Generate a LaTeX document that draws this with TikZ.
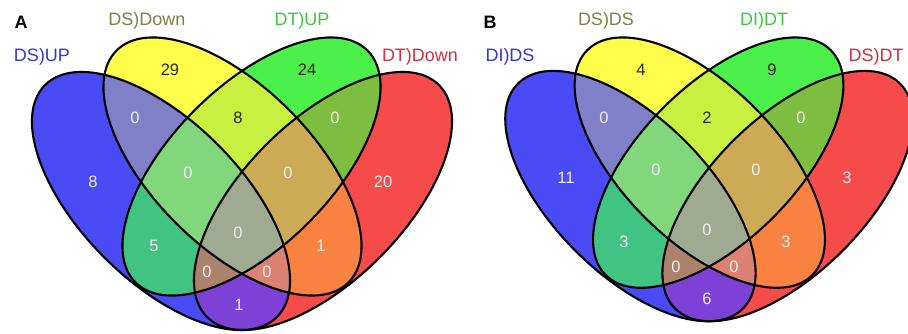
\documentclass[tikz,border=0pt]{standalone}
\usepackage{fontspec}
\setmainfont{Liberation Sans}

% region colours of the four-set diagram
\definecolor{cB}{RGB}{75,75,245}
\definecolor{cY}{RGB}{255,255,75}
\definecolor{cG}{RGB}{75,240,75}
\definecolor{cR}{RGB}{245,75,75}
\definecolor{cBY}{RGB}{128,128,200}
\definecolor{cBG}{RGB}{65,195,130}
\definecolor{cBR}{RGB}{125,65,215}
\definecolor{cYG}{RGB}{200,240,65}
\definecolor{cYR}{RGB}{250,130,65}
\definecolor{cGR}{RGB}{125,190,65}
\definecolor{cBYG}{RGB}{130,215,125}
\definecolor{cBYR}{RGB}{220,130,115}
\definecolor{cBGR}{RGB}{170,130,110}
\definecolor{cYGR}{RGB}{205,170,85}
\definecolor{cBYGR}{RGB}{160,170,145}
% label colours
\definecolor{numlight}{RGB}{238,238,238}
\definecolor{numdark}{RGB}{40,40,20}
\definecolor{tBlue}{RGB}{55,55,200}
\definecolor{tOlive}{RGB}{128,128,70}
\definecolor{tGreen}{RGB}{60,200,60}
\definecolor{tRed}{RGB}{205,50,60}

\tikzset{
  outline/.style={draw=black, line width=2.1pt},
  num/.style={font=\fontsize{16.5}{18}\selectfont, text=numlight, inner sep=0pt},
  numdk/.style={num, text=numdark},
  catlabel/.style={font=\fontsize{18}{20}\selectfont, inner sep=0pt},
  panellabel/.style={font=\bfseries\fontsize{18}{20}\selectfont, inner sep=0pt},
}

% the four ellipses, in panel coordinates (origin on the symmetry axis)
\newcommand{\ellB}[1]{\path[#1,rotate around={135:(-81,-34)}] (-81,-34) ellipse [x radius=164, y radius=80];}
\newcommand{\ellY}[1]{\path[#1,rotate around={135:(-9.5,0.5)}] (-9.5,0.5) ellipse [x radius=164, y radius=80];}
\newcommand{\ellG}[1]{\path[#1,rotate around={45:(9.5,0.5)}] (9.5,0.5) ellipse [x radius=164, y radius=80];}
\newcommand{\ellR}[1]{\path[#1,rotate around={45:(81,-34)}] (81,-34) ellipse [x radius=164, y radius=80];}

% one panel: single sets, then pairs, triples and the common part, then outlines
\newcommand{\vennpanel}{%
  \ellB{fill=cB}\ellY{fill=cY}\ellG{fill=cG}\ellR{fill=cR}
  \begin{scope}\ellB{clip}\ellY{fill=cBY}\end{scope}
  \begin{scope}\ellB{clip}\ellG{fill=cBG}\end{scope}
  \begin{scope}\ellB{clip}\ellR{fill=cBR}\end{scope}
  \begin{scope}\ellY{clip}\ellG{fill=cYG}\end{scope}
  \begin{scope}\ellY{clip}\ellR{fill=cYR}\end{scope}
  \begin{scope}\ellG{clip}\ellR{fill=cGR}\end{scope}
  \begin{scope}\ellB{clip}\ellY{clip}\ellG{fill=cBYG}\end{scope}
  \begin{scope}\ellB{clip}\ellY{clip}\ellR{fill=cBYR}\end{scope}
  \begin{scope}\ellB{clip}\ellG{clip}\ellR{fill=cBGR}\end{scope}
  \begin{scope}\ellY{clip}\ellG{clip}\ellR{fill=cYGR}\end{scope}
  \begin{scope}\ellB{clip}\ellY{clip}\ellG{clip}\ellR{fill=cBYGR}\end{scope}
  \ellB{outline}\ellY{outline}\ellG{outline}\ellR{outline}
}

\begin{document}
\begin{tikzpicture}[x=1pt,y=1pt]
\useasboundingbox (0,0) rectangle (908,333);

% ---------- panel A ----------
\begin{scope}[shift={(242,166)}]
  \vennpanel
\end{scope}
\node[panellabel] (pA) at (21,311) {A};
\node[catlabel, text=tBlue]  (cA1) at (42,276)  {DS)UP};
\node[catlabel, text=tOlive] (cA2) at (147,312) {DS)Down};
\node[catlabel, text=tGreen] (cA3) at (302,312) {DT)UP};
\node[catlabel, text=tRed]   (cA4) at (420,276) {DT)Down};

\node[numdk] (a1)  at (170,263) {29};
\node[numdk] (a2)  at (307,263) {24};
\node[numdk] (a3)  at (238,215) {8};
\node[num]   (a4)  at (135,215) {0};
\node[num]   (a5)  at (335,215) {0};
\node[num]   (a6)  at (93,151)  {8};
\node[num]   (a7)  at (383,151) {20};
\node[num]   (a8)  at (188,160) {0};
\node[num]   (a9)  at (288,160) {0};
\node[num]   (a10) at (238,100) {0};
\node[num]   (a11) at (154,87)  {5};
\node[num]   (a12) at (321,87)  {1};
\node[num]   (a13) at (207,61)  {0};
\node[num]   (a14) at (267,61)  {0};
\node[num]   (a15) at (239,28)  {1};

% ---------- panel B ----------
\begin{scope}[shift={(709,169.9)}, scale=0.97]
  \vennpanel
\end{scope}
\node[panellabel] (pB) at (490,311) {B};
\node[catlabel, text=tBlue]  (cB1) at (510,276) {DI)DS};
\node[catlabel, text=tOlive] (cB2) at (606,312) {DS)DS};
\node[catlabel, text=tGreen] (cB3) at (764,312) {DI)DT};
\node[catlabel, text=tRed]   (cB4) at (876,276) {DS)DT};

\node[numdk] (b1)  at (641,263) {4};
\node[numdk] (b2)  at (772,263) {9};
\node[numdk] (b3)  at (707,215) {2};
\node[num]   (b4)  at (604,215) {0};
\node[num]   (b5)  at (801,215) {0};
\node[num]   (b6)  at (566,155) {11};
\node[num]   (b7)  at (847,155) {3};
\node[num]   (b8)  at (656,163) {0};
\node[num]   (b9)  at (756,163) {0};
\node[num]   (b10) at (707,103) {0};
\node[num]   (b11) at (624,91)  {3};
\node[num]   (b12) at (786,91)  {3};
\node[num]   (b13) at (676,66)  {0};
\node[num]   (b14) at (734,66)  {0};
\node[num]   (b15) at (707,34)  {6};
\end{tikzpicture}
\end{document}
